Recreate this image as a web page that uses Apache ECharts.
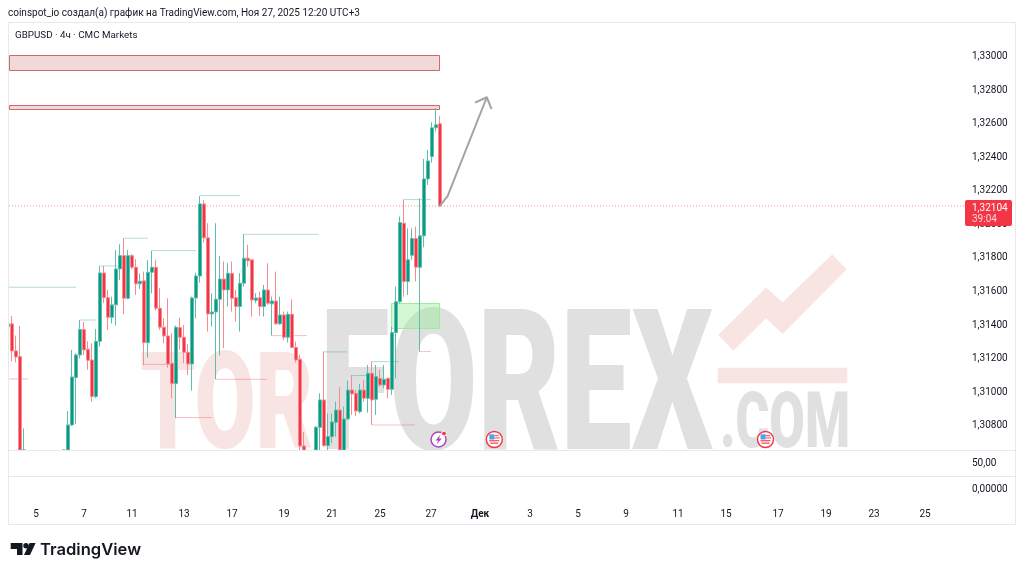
<!DOCTYPE html>
<html><head><meta charset="utf-8">
<style>html,body{margin:0;padding:0;background:#fff}#c{width:1024px;height:574px}</style>
<script src="https://cdn.jsdelivr.net/npm/echarts@6/dist/echarts.min.js"></script>
</head><body><div id="c"></div>
<script>
const opens=[1.31386,1.31402,1.31241,1.31207,1.30550,null,null,null,null,null,null,null,null,null,1.30600,1.30500,1.30800,1.31082,1.31217,1.31368,1.31251,1.31187,1.30969,1.31298,1.31705,1.31558,1.31441,1.31515,1.31729,1.31808,1.31554,1.31808,1.31739,1.31640,1.31658,1.31290,1.31709,1.31739,1.31495,1.31382,1.31330,1.31167,1.31046,1.31380,1.31322,1.31233,1.31163,1.31556,1.31687,1.32116,1.31914,1.31461,1.31473,1.31548,1.31669,1.31604,1.31703,1.31558,1.31505,1.31644,1.31793,1.31783,1.31542,1.31558,1.31505,1.31604,1.31521,1.31538,1.31402,1.31455,1.31322,1.31459,1.31261,1.31191,1.30675,null,null,1.30600,1.30786,1.30949,1.30677,1.30731,1.30816,1.30889,1.30600,1.30836,1.31008,1.30989,1.30879,1.31008,1.30959,1.31108,1.30953,1.31078,1.31038,1.31078,1.31012,1.31350,1.31534,1.32001,1.31654,1.31810,1.31910,1.31739,1.31926,1.32265,1.32398,1.32569,1.32593];
const closes=[1.31402,1.31241,1.31205,1.30550,1.30450,null,null,null,null,null,null,null,null,null,1.30500,1.30800,1.31086,1.31217,1.31368,1.31247,1.31185,1.30969,1.31298,1.31705,1.31558,1.31441,1.31515,1.31729,1.31808,1.31554,1.31808,1.31739,1.31640,1.31656,1.31290,1.31709,1.31739,1.31495,1.31382,1.31330,1.31163,1.31046,1.31382,1.31322,1.31233,1.31163,1.31556,1.31687,1.32116,1.31914,1.31461,1.31473,1.31548,1.31669,1.31604,1.31703,1.31554,1.31505,1.31644,1.31793,1.31777,1.31544,1.31556,1.31505,1.31604,1.31525,1.31538,1.31402,1.31455,1.31322,1.31459,1.31261,1.31187,1.30675,1.30600,null,null,1.30786,1.30949,1.30677,1.30731,1.30818,1.30889,1.30600,1.30836,1.31008,1.30985,1.30883,1.31008,1.30959,1.31108,1.30949,1.31088,1.31038,1.31072,1.31012,1.31350,1.31534,1.32005,1.31654,1.31783,1.31910,1.31739,1.31926,1.32265,1.32372,1.32569,1.32587,1.32104];
const lows=[1.31386,1.31179,1.31173,1.30450,1.30400,null,null,null,null,null,null,null,null,null,1.30450,1.30480,1.30794,1.30804,1.31197,1.31217,1.31128,1.30939,1.30959,1.31266,1.31525,1.31366,1.31405,1.31392,1.31664,1.31459,1.31548,1.31727,1.31574,1.31610,1.31157,1.31201,1.31584,1.31481,1.31366,1.31286,1.31141,1.30959,1.30840,1.31247,1.31167,1.31098,1.31005,1.31435,1.31648,1.31886,1.31356,1.31386,1.31072,1.31213,1.31257,1.31505,1.31475,1.31415,1.31356,1.31624,1.31743,1.31445,1.31525,1.31449,1.31445,1.31515,1.31332,1.31396,1.31396,1.31306,1.31292,1.31257,1.31171,1.30640,1.30580,null,null,1.30580,1.30651,1.30671,1.30651,1.30691,1.30731,1.30580,1.30580,1.30830,1.30860,1.30854,1.30869,1.30939,1.30873,1.30800,1.30860,1.31028,1.31018,1.30959,1.30979,1.31078,1.31525,1.31564,1.31574,1.31783,1.31654,1.31237,1.31858,1.32229,1.32362,1.32547,1.32100];
const highs=[1.31402,1.31449,1.31332,1.31390,1.30780,null,null,null,null,null,null,null,null,null,1.30655,1.30883,1.31247,1.31227,1.31425,1.31413,1.31298,1.31286,1.31372,1.31747,1.31747,1.31604,1.31564,1.31842,1.31876,1.31912,1.31842,1.31818,1.31787,1.31703,1.31713,1.31783,1.31838,1.31783,1.31614,1.31435,1.31554,1.31346,1.31392,1.31439,1.31396,1.31282,1.31564,1.31707,1.32164,1.32140,1.32001,1.31584,1.32001,1.31806,1.31773,1.31763,1.31773,1.31604,1.31703,1.31935,1.31872,1.31783,1.31584,1.31594,1.31634,1.31763,1.31564,1.31713,1.31564,1.31475,1.31475,1.31548,1.31296,1.31217,1.30758,null,null,1.30794,1.30989,1.31237,1.30869,1.30869,1.30939,1.31024,1.30909,1.31064,1.31098,1.31008,1.31044,1.31068,1.31157,1.31177,1.31157,1.31128,1.31157,1.31078,1.31386,1.31624,1.32041,1.32140,1.31971,1.31971,1.31981,1.32150,1.32384,1.32438,1.32602,1.32686,1.32640];

const priceTicks=[1.30800,1.31000,1.31200,1.31400,1.31600,1.31800,1.32000,1.32200,1.32400,1.32600,1.32800,1.33000];
const timeTickBars=[7,19,31,44,56,69,81,93,105.75,118,130.5,142.5,154.5,167.5,179.5,192.5,204.5,216.5,229.25];
const timeTickLabels=['5','7','11','13','17','19','21','25','27','Дек','3','5','9','11','15','17','19','23','25'];
const lastPrice=1.32104;

// [price, from bar, to bar]
const tealPivots=[[1.31620,.25,17],[1.31425,18,22],[1.31747,23,27.5],[1.31912,29,35],[1.31838,36,47],[1.32166,48,58],[1.31935,58.75,77.75],[1.31235,78.75,84.75],[1.31094,85.75,89.75],[1.31177,90.75,97.75],[1.32142,98.75,105.75]];
const redPivots=[[1.31074,.25,5],[1.31161,34,41],[1.30844,42,51],[1.31072,52,64.75],[1.31332,66,74.75],[1.30800,91,101.75],[1.31237,102.75,105.75]];
// [from bar, to bar, low, high]
const redZones=[[.25,107.75,1.32908,1.33000],[.25,107.75,1.32681,1.32702]];
const greenZones=[[95.75,107.75,1.31379,1.31525]];
const arrowPath=[[107.8,1.32100],[109.9,1.32163],[119.7,1.32751],[116.75,1.32719],[119.7,1.32751],[120.9,1.32681]];

const Y_MIN=1.30651, Y_MAX=1.33199;
const N=240, bars=Array.from({length:N},(_,i)=>String(i));
const clampY=v=>Math.max(v,Y_MIN);
const candles=opens.map((o,i)=>o==null?['-','-','-','-']:[clampY(o),clampY(closes[i]),clampY(lows[i]),clampY(highs[i])]);
const UP='#089981', DOWN='#f23645';
const FONT='Roboto, sans-serif', INK='#131722';

function zoneSeries(data,fill,stroke){
  return {type:'custom',xAxisIndex:1,yAxisIndex:0,z:1,silent:true,clip:true,data,
    encode:{x:[0,1],y:[2,3]},
    renderItem(p,api){
      const a=api.coord([api.value(0),api.value(3)]),b=api.coord([api.value(1),api.value(2)]);
      const x=Math.round(a[0])+.5,y=Math.round(a[1])+.5,w=Math.round(b[0]-a[0]),h=Math.round(b[1]-a[1]);
      return {type:'rect',shape:{x,y,width:w,height:h},style:{fill,stroke,lineWidth:1}};
    }};
}
function pivotSeries(list,color){
  const d=[];list.forEach(r=>{d.push([r[1],r[0]],[r[2],r[0]],['-','-']);});
  return {type:'line',xAxisIndex:1,yAxisIndex:0,z:1,silent:true,symbol:'none',data:d,connectNulls:false,lineStyle:{color,width:1}};
}
const txt=(x,y,text,o={})=>({type:'text',z:o.z||150,style:{x,y,text,fill:o.fill||INK,font:(o.weight||'normal')+' '+(o.size||10)+'px '+(o.family||FONT),textVerticalAlign:'middle',textAlign:o.align||'left'}});
const wm=(x,y,text,size,sx,fill)=>({type:'text',z:-1,x,y,scaleX:sx,originX:0,originY:0,style:{x:0,y:0,text,fill,font:'900 '+size+'px Roboto, sans-serif',textVerticalAlign:'middle',textAlign:'left'}});
const PINK='#f9e4e4', GRAY='#e0e0e0';
function flag(cx,cy){
  return [
   {type:'circle',z:160,shape:{cx,cy,r:8},style:{fill:'#fff',stroke:'#f23645',lineWidth:1.4}},
   {type:'rect',z:161,shape:{x:cx-5,y:cy+.5,width:10,height:1.4},style:{fill:'#f4606c'}},
   {type:'rect',z:161,shape:{x:cx-4,y:cy+3,width:8,height:1.4},style:{fill:'#f4606c'}},
   {type:'rect',z:161,shape:{x:cx+.5,y:cy-4.5,width:4,height:1.2},style:{fill:'#f4606c'}},
   {type:'rect',z:161,shape:{x:cx+.5,y:cy-2.2,width:5,height:1.2},style:{fill:'#f4606c'}},
   {type:'rect',z:161,shape:{x:cx-5,y:cy-5.2,width:5.2,height:5.2},style:{fill:'#5b9bea'}}
  ];
}
const chart=echarts.init(document.getElementById('c'),null,{renderer:'canvas'});
chart.setOption({
 animation:false,backgroundColor:'#fff',
 grid:{left:6,top:22,width:960,height:428,containLabel:false},
 xAxis:[
  {type:'category',data:bars,show:false,boundaryGap:true},
  {type:'value',min:-0.5,max:N-0.5,position:'bottom',axisLine:{show:false},axisTick:{show:false},splitLine:{show:false},
   axisLabel:{show:true,margin:59,fontSize:10,fontFamily:FONT,color:INK,customValues:timeTickBars,hideOverlap:false,showMinLabel:true,showMaxLabel:true,
    formatter:v=>{const s=timeTickLabels[timeTickBars.indexOf(v)];return s==='Дек'?'{b|Дек}':s;},
    rich:{b:{fontWeight:'bold',fontSize:10,fontFamily:FONT,color:INK}}}}
 ],
 yAxis:[{type:'value',min:Y_MIN,max:Y_MAX,position:'right',scale:true,axisLine:{show:false},axisTick:{show:false},splitLine:{show:false},
   axisLabel:{margin:6,fontSize:10,fontFamily:FONT,color:INK,verticalAlign:'top',lineHeight:2,customValues:priceTicks,formatter:v=>v.toFixed(5).replace('.',',')}}],
 series:[
  zoneSeries(redZones,'#f1d9d9','#cf6a6c'),
  zoneSeries(greenZones,'rgba(150,235,150,.42)','#9bec9b'),
  pivotSeries(tealPivots,'rgba(8,153,129,.32)'),
  pivotSeries(redPivots,'rgba(242,54,69,.32)'),
  {type:'candlestick',xAxisIndex:0,yAxisIndex:0,z:3,silent:true,barWidth:4,data:candles,
   itemStyle:{color:UP,color0:DOWN,borderColor:'#5fbdad',borderColor0:'#f78a93',borderWidth:1}},
  {type:'line',xAxisIndex:1,yAxisIndex:0,z:2,silent:true,symbol:'none',data:[[.25,lastPrice],[N-.5,lastPrice]],lineStyle:{color:'rgba(242,54,69,.55)',width:1,type:[1,2]}},
  {type:'line',xAxisIndex:1,yAxisIndex:0,z:4,silent:true,symbol:'none',clip:false,data:arrowPath,lineStyle:{color:'#a3a3a3',width:2}}
 ],
 graphic:{elements:[
  wm(140,413.5,'TOR',136,.65,PINK),
  wm(320,400,'FOREX',197,.646,GRAY),
  wm(720,427,'.COM',78,.66,GRAY),
  {type:'polygon',z:-1,shape:{points:[[718.3,335],[766,287.7],[782.7,302.3],[832.3,254.3],[846.7,269.3],[782.7,334],[766,318.3],[733.3,350.7]]},style:{fill:PINK}},
  {type:'rect',z:-1,shape:{x:717.7,y:367.7,width:129.6,height:15.6},style:{fill:PINK}},
  {type:'rect',z:120,shape:{x:0,y:22,width:8,height:430},style:{fill:'#fff'}},
  {type:'rect',z:121,shape:{x:8.5,y:22.5,width:1007,height:502},style:{fill:'none',stroke:'#e9e9ec',lineWidth:1}},
  {type:'line',z:121,shape:{x1:8.5,y1:450.5,x2:1015.5,y2:450.5},style:{stroke:'#e9e9ec',lineWidth:1}},
  {type:'line',z:121,shape:{x1:8.5,y1:476.5,x2:1015.5,y2:476.5},style:{stroke:'#e9e9ec',lineWidth:1}},
  txt(8,13.5,'coinspot_io создал(а) график на TradingView.com, Ноя 27, 2025 12:20 UTC+3',{size:10}),
  txt(15,35.5,'GBPUSD · 4ч · CMC Markets',{size:9.8}),
  txt(972,463,'50,00'),
  txt(972,489,'0,00000'),
  {type:'rect',z:200,shape:{x:965,y:200,width:47,height:26,r:2},style:{fill:DOWN}},
  txt(972,208,'1,32104',{fill:'#fff',z:201}),
  txt(972,219.5,'39:04',{fill:'#fcd3d7',z:201}),
  {type:'circle',z:160,shape:{cx:438.5,cy:439.5,r:7.5},style:{fill:'#fff',stroke:'#ab47bc',lineWidth:1.5}},
  {type:'polygon',z:161,shape:{points:[[440.5,434.5],[435.5,440.5],[438.2,440.5],[436.5,444.5],[441.8,438.5],[439,438.5]]},style:{fill:'#ab47bc'}},
  {type:'circle',z:162,shape:{cx:444,cy:433.5,r:2.4},style:{fill:'#f23645',stroke:'#fff',lineWidth:1}},
  ...flag(494.3,439.5),
  ...flag(765.5,439.5),
  {type:'polygon',z:150,shape:{points:[[10.7,543],[22.5,543],[22.5,555],[17,555],[17,549],[10.7,549]]},style:{fill:'#131722'}},
  {type:'circle',z:150,shape:{cx:26,cy:545.8,r:2.7},style:{fill:'#131722'}},
  {type:'polygon',z:150,shape:{points:[[29.6,543],[35.6,543],[30,555],[24,555]]},style:{fill:'#131722'}},
  txt(40,549.5,'TradingView',{size:16.6,family:'Inter',weight:'600'})
 ]}
});
</script></body></html>
